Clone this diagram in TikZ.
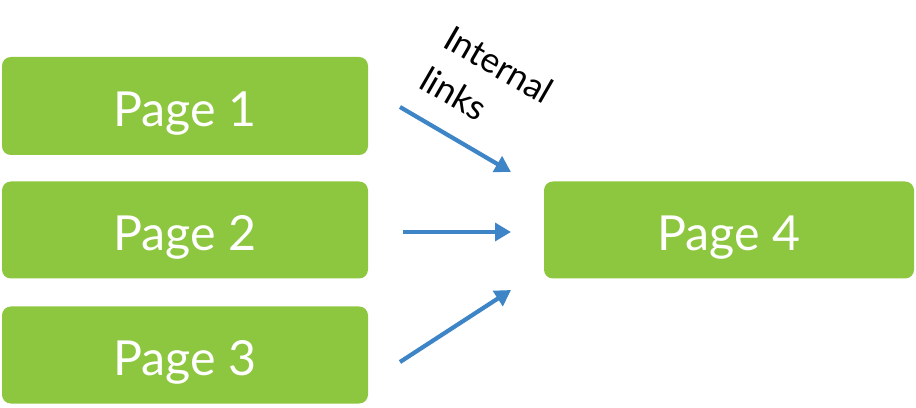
\documentclass[tikz,border=0pt]{standalone}
\usepackage{fontspec}
\setmainfont{Lato}
\usetikzlibrary{arrows.meta}
\definecolor{pagegreen}{HTML}{8DC63F}
\definecolor{linkblue}{HTML}{3D85C6}
\begin{document}
\begin{tikzpicture}[x=0.02cm,y=-0.02cm,
    page/.style={fill=pagegreen,rounded corners=5pt,text=white,text height=0.95cm,text depth=0.11cm,font=\fontsize{27.5}{32}\selectfont},
    link/.style={draw=linkblue,line width=2.4pt,-{Triangle[length=9pt,width=10pt]}}]
        \useasboundingbox (0,0) rectangle (916,408);
        \node[page,minimum width=366*0.02cm,minimum height=98*0.02cm] (p1) at (185,106) {Page 1};
        \node[page,minimum width=366*0.02cm,minimum height=97*0.02cm] (p2) at (185,230) {Page 2};
        \node[page,minimum width=366*0.02cm,minimum height=97*0.02cm] (p3) at (185,355) {Page 3};
        \node[page,minimum width=370*0.02cm,minimum height=97*0.02cm] (p4) at (729,230) {Page 4};
        \coordinate (s1) at (400,107); \coordinate (e1) at (511,172);
        \coordinate (s2) at (403,232); \coordinate (e2) at (511,232);
        \coordinate (s3) at (400,362); \coordinate (e3) at (511,290);
        \foreach \i in {1,2,3}
            \draw[link] (s\i) -- (e\i);
        \node[rotate=-30,align=left,font=\fontsize{20}{27}\selectfont] (lbl) at (487,85) {Internal\\links};
    \end{tikzpicture}
\end{document}
